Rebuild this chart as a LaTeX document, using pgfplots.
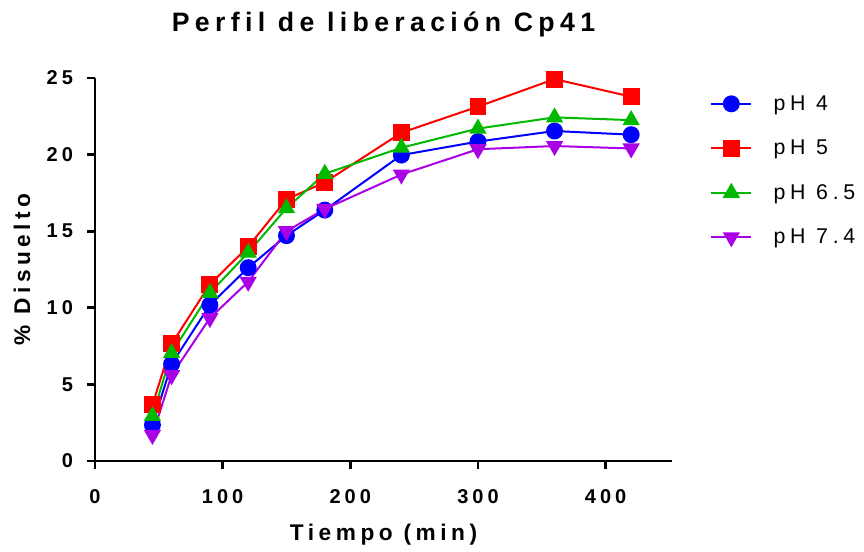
\documentclass[border=0pt]{standalone}
\usepackage{fontspec}
\setmainfont{Liberation Sans}
\newfontfamily\spaced[LetterSpace=20]{Liberation Sans}
\newfontfamily\spacedlegend[LetterSpace=22]{Liberation Sans}
\newfontfamily\spacedlabel[LetterSpace=20]{Liberation Sans}
\usepackage{pgfplots}
\pgfplotsset{compat=1.18}

\definecolor{cph4}{RGB}{0,0,255}
\definecolor{cph5}{RGB}{255,0,0}
\definecolor{cph65}{RGB}{0,185,0}
\definecolor{cph74}{RGB}{170,0,230}

\begin{document}
\begin{tikzpicture}
\path[use as bounding box] (-71.25pt,-67.5pt) rectangle (576.75pt,345.75pt);
\begin{axis}[
  at={(0pt,0pt)}, anchor=south west,
  scale only axis, width=432.75pt, height=287.25pt,
  xmin=0, xmax=452, ymin=0, ymax=25,
  axis x line*=bottom, axis y line*=left,
  axis line style={line width=2.2pt, -},
  tick align=outside, major tick length=6pt,
  tick style={line width=2.2pt, black},
  xtick={0,100,...,400}, ytick={0,5,...,25},
  minor tick num=0,
  /pgf/number format/assume math mode=true,
  tick label style={font=\spacedlabel\bfseries\fontsize{15}{17}\selectfont},
  xticklabel style={yshift=-12pt},
  yticklabel style={xshift=-7pt},
  clip=false,
  legend style={draw=none, fill=none, at={(1.066,0.962)}, anchor=north west,
    font=\spacedlegend\fontsize{16}{19}\selectfont, inner sep=0pt, row sep=16.8pt,
    /tikz/every odd column/.append style={column sep=14pt}},
  legend cell align=left,
  /pgfplots/legend image code/.code={
    \draw[mark repeat=2,mark phase=2] plot coordinates {(0pt,0pt) (15pt,0pt) (30pt,0pt)};
  },
]
\addplot[cph4, line width=1.5pt, mark=*, mark size=5.6pt, mark options={solid, fill=cph4, draw=cph4}]
  coordinates {(45,2.35) (60,6.33) (90,10.18) (120,12.62) (150,14.71) (180,16.38) (240,19.97) (300,20.85) (360,21.54) (420,21.3)};
\addlegendentry{pH 4}
\addplot[cph5, line width=1.5pt, mark=square*, mark size=5.6pt, mark options={solid, fill=cph5, draw=cph5}]
  coordinates {(45,3.66) (60,7.64) (90,11.53) (120,13.99) (150,17.08) (180,18.19) (240,21.43) (300,23.13) (360,24.93) (420,23.78)};
\addlegendentry{pH 5}
\addplot[cph65, line width=1.5pt, mark=triangle*, mark size=6pt, mark options={solid, fill=cph65, draw=cph65}]
  coordinates {(45,2.94) (60,7.05) (90,10.97) (120,13.6) (150,16.5) (180,18.75) (240,20.45) (300,21.7) (360,22.43) (420,22.25)};
\addlegendentry{pH 6.5}
\addplot[cph74, line width=1.5pt, mark=triangle*, mark size=6pt, mark options={solid, fill=cph74, draw=cph74, rotate=180}]
  coordinates {(45,1.7) (60,5.6) (90,9.33) (120,11.7) (150,15.0) (180,16.45) (240,18.7) (300,20.35) (360,20.56) (420,20.4)};
\addlegendentry{pH 7.4}

\node[font=\spaced\bfseries\fontsize{20}{24}\selectfont] at (axis description cs:0.5,1) [yshift=40.5pt] {Perfil de liberación Cp41};
\node[font=\spaced\bfseries\fontsize{17}{20}\selectfont] at (axis description cs:0.5,0) [yshift=-55.5pt] {Tiempo (min)};
\path (axis description cs:0,0.5) ++(-54.75pt,0pt)
  node[font=\spaced\bfseries\fontsize{17}{20}\selectfont, rotate=90] {\% Disuelto};
\end{axis}
\end{tikzpicture}
\end{document}
